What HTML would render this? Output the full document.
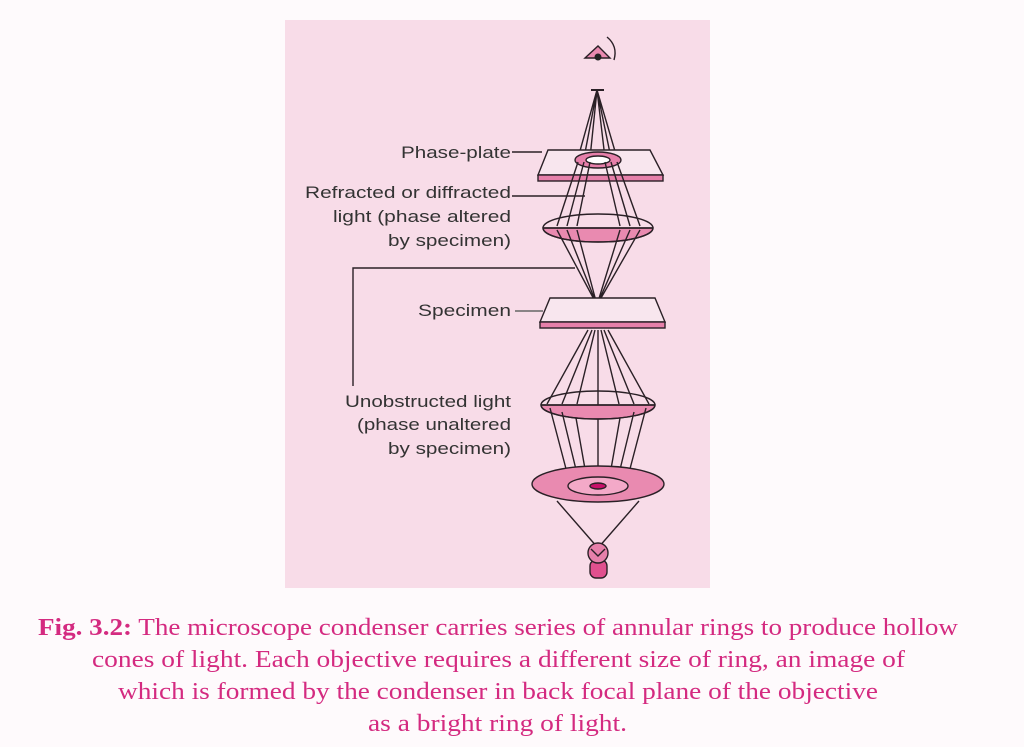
<!DOCTYPE html>
<html><head><meta charset="utf-8"><style>
html,body{margin:0;padding:0;background:#fff;}
svg{display:block}
</style></head><body>
<svg width="1024" height="747" viewBox="0 0 1024 747" xmlns="http://www.w3.org/2000/svg">
<rect x="0" y="0" width="1024" height="747" fill="#fefafc"/>
<rect x="285" y="20" width="425" height="568" fill="#f8dce8"/>
<g stroke="#2a2026" stroke-width="1.4" fill="none">
<path d="M585 58 L598 46 L610 58 Z" fill="#e98ab0"/>
<circle cx="598" cy="57" r="3.5" fill="#222" stroke="none"/>
<path d="M607 37 Q618 46 614 60"/>
<line x1="591" y1="90" x2="604" y2="90" stroke-width="2"/>
<path d="M597 90 L578 158 M597 90 L584 158 M597 90 L590 158 M597 90 L605 158 M597 90 L611 158 M597 90 L617 158"/>
<path d="M548 150 L650 150 L663 175 L538 175 Z" fill="#f8e6ee"/>
<rect x="538" y="175" width="125" height="6" fill="#e680aa"/>
<ellipse cx="598" cy="160" rx="23" ry="8" fill="#e680aa"/>
<ellipse cx="598" cy="160" rx="12" ry="4" fill="#fff"/>
<path d="M578 162 L557 226 M584 162 L567 226 M590 162 L577 226 M605 162 L620 226 M611 162 L630 226 M617 162 L640 226"/>
<path d="M543 228 A55 14 0 0 0 653 228 Z" fill="#e98ab0"/>
<ellipse cx="598" cy="228" rx="55" ry="14"/>
<line x1="543" y1="228" x2="653" y2="228"/>
<path d="M557 230 L597 305 M567 230 L597 305 M577 230 L597 305 M620 230 L597 305 M630 230 L597 305 M640 230 L597 305"/>
<line x1="591" y1="306" x2="604" y2="306" stroke-width="2"/>
<path d="M550 298 L655 298 L665 322 L540 322 Z" fill="#f8e6ee"/>
<rect x="540" y="322" width="125" height="6" fill="#e680aa"/>
<path d="M588 330 L547 404 M592 330 L562 404 M595 330 L577 404 M598 330 L598 490 M601 330 L619 404 M604 330 L634 404 M608 330 L649 404"/>
<path d="M541 405 A57 14 0 0 0 655 405 Z" fill="#e98ab0"/>
<ellipse cx="598" cy="405" rx="57" ry="14"/>
<line x1="541" y1="405" x2="655" y2="405"/>
<path d="M550 408 L570 484 M562 412 L580 486 M576 418 L588 486 M620 418 L608 486 M634 412 L616 486 M646 408 L626 484"/>
<ellipse cx="598" cy="484" rx="66" ry="18" fill="#e98ab0"/>
<ellipse cx="598" cy="486" rx="30" ry="9" fill="#f3a9c8"/>
<ellipse cx="598" cy="486" rx="8" ry="3" fill="#c8106a"/>
<path d="M557 501 L598 548 L639 501"/>
<rect x="590" y="560" width="17" height="18" rx="6" fill="#e0508e"/>
<circle cx="598" cy="553" r="10" fill="#e680aa"/>
<path d="M591 549 L598 556 L605 549"/>
<line x1="512" y1="152" x2="542" y2="152"/>
<line x1="512" y1="196" x2="585" y2="196"/>
<polyline points="575,268 353,268 353,386"/>
<line x1="515" y1="311" x2="543" y2="311" stroke="#666"/>
</g>
<g font-family="Liberation Sans, sans-serif" font-size="17" fill="#333">
<text x="401" y="158" textLength="110" lengthAdjust="spacingAndGlyphs">Phase-plate</text>
<text x="305" y="198" textLength="206" lengthAdjust="spacingAndGlyphs">Refracted or diffracted</text>
<text x="333" y="222" textLength="178" lengthAdjust="spacingAndGlyphs">light (phase altered</text>
<text x="388" y="246" textLength="123" lengthAdjust="spacingAndGlyphs">by specimen)</text>
<text x="418" y="316" textLength="93" lengthAdjust="spacingAndGlyphs">Specimen</text>
<text x="345" y="407" textLength="166" lengthAdjust="spacingAndGlyphs">Unobstructed light</text>
<text x="357" y="430" textLength="154" lengthAdjust="spacingAndGlyphs">(phase unaltered</text>
<text x="388" y="454" textLength="123" lengthAdjust="spacingAndGlyphs">by specimen)</text>
</g>
<g font-family="Liberation Serif, serif" font-size="24" fill="#d42a80">
<text x="38" y="635" textLength="920" lengthAdjust="spacingAndGlyphs"><tspan font-weight="bold">Fig. 3.2:</tspan> The microscope condenser carries series of annular rings to produce hollow</text>
<text x="92" y="667" textLength="813" lengthAdjust="spacingAndGlyphs">cones of light. Each objective requires a different size of ring, an image of</text>
<text x="118" y="699" textLength="760" lengthAdjust="spacingAndGlyphs">which is formed by the condenser in back focal plane of the objective</text>
<text x="368" y="731" textLength="259" lengthAdjust="spacingAndGlyphs">as a bright ring of light.</text>
</g>
</svg>
</body></html>
